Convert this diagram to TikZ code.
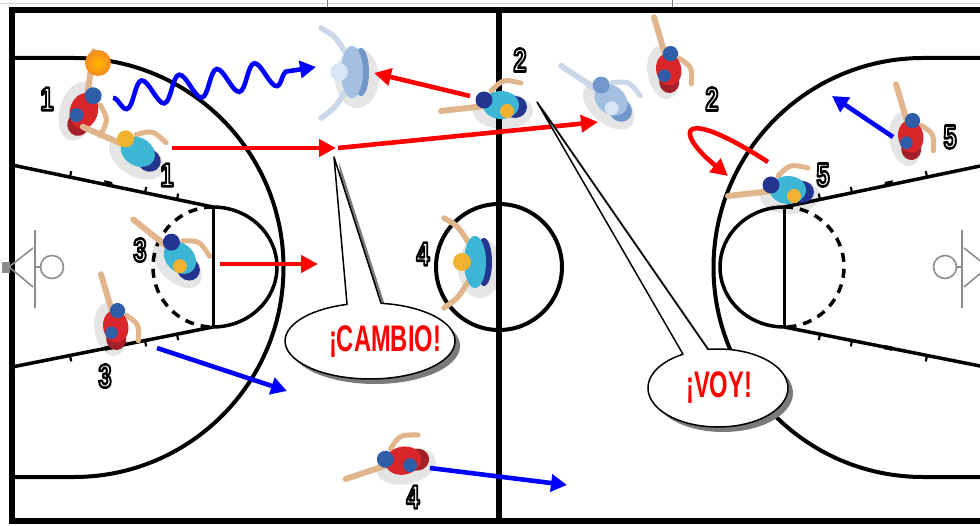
\documentclass[tikz,border=0pt]{standalone}
\usepackage{fontspec}
\setmainfont{Liberation Sans}
\usepackage{graphicx}
\usetikzlibrary{arrows.meta,decorations.pathmorphing}

\definecolor{skin}{HTML}{E2B68C}
\definecolor{redshirt}{HTML}{D8262A}
\definecolor{reddark}{HTML}{A3202A}
\definecolor{redtrim}{HTML}{2F5DA8}
\definecolor{tealshirt}{HTML}{3DB6D6}
\definecolor{tealtrim}{HTML}{23358F}
\definecolor{tealhead}{HTML}{F2B231}
\definecolor{ghostshirt}{HTML}{A3BFE2}
\definecolor{ghosttrim}{HTML}{7396CB}
\definecolor{ghosthead}{HTML}{D8E5F4}
\definecolor{ghostskin}{HTML}{CAD8EA}
\definecolor{bubbleshadow}{HTML}{7A7A7A}
\definecolor{hoopgray}{HTML}{8C8C8C}
\definecolor{ballorange}{HTML}{F39A22}

% one half of the court, drawn for the left basket
\newcommand\halfcourt{%
  \draw[arcline] (12,58) -- (74,58) arc[start angle=-90, end angle=90, radius=209.5] -- (12,477);
  \draw[laneline] (12,165) -- (213,207);
  \draw[laneline] (12,367) -- (213,327);
  \draw[ftline] (213,207) -- (213,327);
  \draw[laneline] (213,207) arc[start angle=-90, end angle=90, x radius=64, y radius=60];
  \draw[laneline, dash pattern=on 9pt off 7pt] (213,207) arc[start angle=270, end angle=90, x radius=60, y radius=60];
  % lane space marks
  \draw[tick] (70,177.1) -- (71.2,171.2) (145,192.8) -- (146.2,186.9) (177,199.5) -- (178.2,193.6);
  \fill (104,180.2) -- (112,181.9) -- (113.2,186) -- (105.2,184.3) -- cycle;
  \draw[tick] (70,355.5) -- (71.2,361.4) (145,340.5) -- (146.2,346.4) (177,334.2) -- (178.2,340.1);
  \fill (104,346.7) -- (112,345.1) -- (113.2,349.2) -- (105.2,350.8) -- cycle;
  % basket
  \draw[hoopline] (35,230) -- (35,308);
  \draw[hoopline] (35,267) -- (41,267);
  \draw[hoopline] (52,267) circle (11.5);
  \draw[hoopline] (33,248) -- (9,267) -- (33,287);
  \fill[hoopgray] (2,262) rectangle (10,273);
}

% white digits with a black outline (fill, then stroke)
\newcommand\playernum[1]{\scalebox{.72}[1]{\special{pdf:literal direct 1 j 2.6 w 0 0 0 RG 2 Tr}#1\special{pdf:literal direct 0 Tr}}}
\newcommand\shoutword[1]{\scalebox{.64}[1]{#1}}

\tikzset{
  boundary/.style={line width=6pt},
  arcline/.style={line width=4pt},
  laneline/.style={line width=3.5pt},
  ftline/.style={line width=3pt},
  tick/.style={line width=2.2pt},
  hoopline/.style={hoopgray, line width=1.6pt},
  redarrow/.style={draw=red, line width=4.6pt, -{Triangle[length=17pt,width=17pt]}},
  bluearrow/.style={draw=blue, line width=4.6pt, -{Triangle[length=16pt,width=17pt]}},
  num/.style={font=\fontsize{33pt}{33pt}\selectfont\bfseries, text=white, inner sep=0pt},
  shouttext/.style={font=\fontsize{37pt}{37pt}\selectfont\bfseries, text=red, inner sep=0pt},
  bubble/.style={fill=white, draw=black, line width=1.5pt, line join=round},
  % player seen from above, both arms reaching forward (towards -x)
  pics/guard/.style n args={4}{code={
    \fill[black, opacity=.10] (12,6) ellipse [x radius=22, y radius=30];
    \draw[#4, line width=5.5pt, line cap=round] (0,-20) .. controls (-10,-36) .. (-24,-44);
    \draw[#4, line width=5.5pt, line cap=round] (0,20) .. controls (-10,36) .. (-24,46);
    \fill[#2] (16,0) ellipse [x radius=8, y radius=24];
    \fill[#1] (7,0) ellipse [x radius=11, y radius=26];
    \fill[#3] (-6,0) circle (9);
  }},
  % player seen from above, one arm stretched forward (towards -x)
  pics/mover/.style n args={5}{code={
    \fill[black, opacity=.10] (18,8) ellipse [x radius=30, y radius=18];
    \draw[#4, line width=6pt, line cap=round] (0,3) -- (-44,8);
    \draw[#4, line width=5pt, line cap=round] (6,-12) .. controls (18,-24) .. (36,-20);
    \fill[#2] (30,4) ellipse [x radius=12, y radius=11];
    \fill[#1] (16,2) ellipse [x radius=18, y radius=14];
    \fill[#3] (22,8) circle (7);
    \fill[#5] (-1,-3) circle (8.5);
  }},
}

\begin{document}
\begin{tikzpicture}[x=1pt, y=-1pt]
\useasboundingbox (0,0) rectangle (980,526);
\fill[white] (0,0) rectangle (980,526);

% court
\draw[gray!35, line width=1pt] (0,3.5) -- (980,3.5);
\draw[gray, line width=.8pt] (327,0) -- (327,9) (672,0) -- (672,9);
\draw[boundary] (995,10) -- (12,10) -- (12,521) -- (995,521);
\draw[boundary] (499,10) -- (499,521);
\draw[line width=4pt] (499,267) circle (63);
\halfcourt
\begin{scope}[shift={(997,0)}, xscale=-1]
  \halfcourt
\end{scope}

% players
\pic[rotate=-105] (red1) at (90,96) {mover={redshirt}{reddark}{redtrim}{skin}{redtrim}};
\shade[inner color=orange!55!yellow, outer color=ballorange!90!red] (98,63) circle (13);
\pic[rotate=-30] (teal1) at (125,142) {mover={tealshirt}{tealtrim}{tealshirt}{skin}{tealhead}};
\pic[rotate=0] (ghost1) at (345,72) {guard={ghostshirt}{ghosttrim}{ghosthead}{ghostskin}};
\pic[rotate=0] (teal2) at (485,103) {mover={tealshirt}{tealtrim}{tealhead}{skin}{tealtrim}};
\pic[rotate=-40] (ghost2) at (600,88) {mover={ghostshirt}{ghosttrim}{ghosthead}{ghostskin}{ghosttrim}};
\pic[rotate=-80, scale=.9] (red2) at (668,55) {mover={redshirt}{reddark}{redtrim}{skin}{redtrim}};
\pic[rotate=0] (teal5) at (772,188) {mover={tealshirt}{tealtrim}{tealhead}{skin}{tealtrim}};
\pic[rotate=-80, scale=.9] (red5) at (910,122) {mover={redshirt}{reddark}{redtrim}{skin}{redtrim}};
\pic[rotate=-45] (teal3) at (170,245) {mover={tealshirt}{tealtrim}{tealhead}{skin}{tealtrim}};
\pic[rotate=-80, scale=.9] (red3) at (115,312) {mover={redshirt}{reddark}{redtrim}{skin}{redtrim}};
\pic[rotate=0] (teal4) at (468,262) {guard={tealshirt}{tealtrim}{tealhead}{skin}};
\pic[rotate=12] (red4) at (387,462) {mover={redshirt}{reddark}{redtrim}{skin}{redtrim}};

% movement end points
\coordinate (dribS) at (113,98);
\coordinate (dribE) at (316,67);
\coordinate (cut1S) at (172,148);
\coordinate (switch) at (336,148);
\coordinate (cut1E) at (598,122);
\coordinate (back2S) at (470,96);
\coordinate (back2E) at (374,73);
\coordinate (cut3S) at (220,264);
\coordinate (cut3E) at (318,264);
\coordinate (drop3S) at (157,348);
\coordinate (drop3E) at (287,391);
\coordinate (run4S) at (430,468);
\coordinate (run4E) at (567,485);
\coordinate (up5S) at (893,137);
\coordinate (up5E) at (832,96);
\coordinate (loopS) at (768,162);
\coordinate (loopE) at (728,176);

% movements
\draw[blue, line width=4.6pt, decorate,
      decoration={snake, amplitude=13pt, segment length=38pt, post length=28pt, mirror},
      -{Triangle[length=16pt,width=17pt]}] (dribS) -- (dribE);
\draw[redarrow] (cut1S) -- (switch);
\draw[redarrow] ([xshift=2pt]switch) -- (cut1E);
\draw[redarrow] (back2S) -- (back2E);
\draw[redarrow] (cut3S) -- (cut3E);
\draw[bluearrow] (drop3S) -- (drop3E);
\draw[bluearrow] (run4S) -- (run4E);
\draw[bluearrow] (up5S) -- (up5E);
\draw[redarrow] (loopS) .. controls (680,105) and (672,130) .. (loopE);

% speech bubbles
\fill[bubbleshadow, shift={(5,5)}] (334,157) -- (381,303.3)
  arc[start angle=-82.6, end angle=254.3, x radius=85, y radius=38] -- cycle;
\draw[bubble] (334,157) -- (381,303.3)
  arc[start angle=-82.6, end angle=254.3, x radius=85, y radius=38] -- cycle;
\node[shouttext] (cambio) at (385,342) {\shoutword{¡CAMBIO!}};

\fill[bubbleshadow, shift={(5,5)}] (537,102) -- (708,349.4)
  arc[start angle=-98.2, end angle=240, x radius=70, y radius=39] -- cycle;
\draw[bubble] (537,102) -- (708,349.4)
  arc[start angle=-98.2, end angle=240, x radius=70, y radius=39] -- cycle;
\node[shouttext] (voy) at (719,388) {\shoutword{¡VOY!}};

% player numbers
\node[num] (n1red) at (47,99) {\playernum{1}};
\node[num] (n1teal) at (167,175) {\playernum{1}};
\node[num] (n2teal) at (520,60) {\playernum{2}};
\node[num] (n2red) at (712,99) {\playernum{2}};
\node[num] (n5teal) at (823,175) {\playernum{5}};
\node[num] (n5red) at (950,137) {\playernum{5}};
\node[num] (n3teal) at (140,250) {\playernum{3}};
\node[num] (n3red) at (105,376) {\playernum{3}};
\node[num] (n4teal) at (423,254) {\playernum{4}};
\node[num] (n4red) at (413,497) {\playernum{4}};
\end{tikzpicture}
\end{document}
